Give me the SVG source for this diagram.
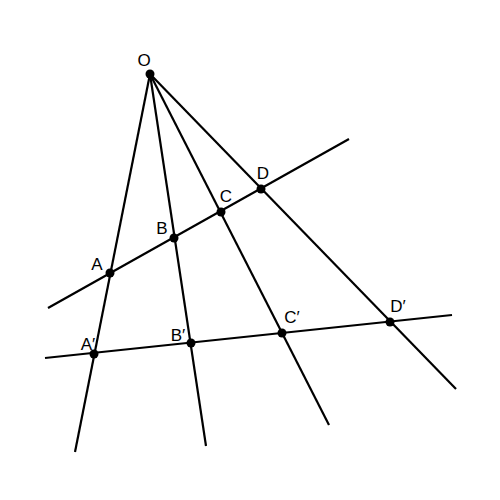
<svg xmlns="http://www.w3.org/2000/svg" width="500" height="500" viewBox="0 0 500 500">
<style>
.l{stroke:#000;stroke-width:2.2;fill:none;stroke-linecap:butt}
.p{fill:#000}
text{font-family:"Liberation Sans",Arial,sans-serif;font-size:17px;fill:#000;text-anchor:middle}
</style>
<rect width="500" height="500" fill="#fff"/>
<g id="connectors">
<line class="l" x1="150" y1="74" x2="75" y2="452"/>
<line class="l" x1="150" y1="74" x2="206" y2="446"/>
<line class="l" x1="150" y1="74" x2="329" y2="425"/>
<line class="l" x1="150" y1="74" x2="456" y2="389"/>
<line class="l" x1="48" y1="308" x2="349" y2="139"/>
<line class="l" x1="45" y1="358" x2="452" y2="315"/>
</g>
<g id="O"><circle class="p" cx="150" cy="74" r="4.5"/><text x="144" y="66">O</text></g>
<g id="A"><circle class="p" cx="110" cy="273" r="4.5"/><text x="97" y="270">A</text></g>
<g id="B"><circle class="p" cx="174" cy="238" r="4.5"/><text x="162" y="234">B</text></g>
<g id="C"><circle class="p" cx="221" cy="212" r="4.5"/><text x="226" y="202">C</text></g>
<g id="D"><circle class="p" cx="261" cy="189" r="4.5"/><text x="263" y="179">D</text></g>
<g id="A2"><circle class="p" cx="94" cy="354" r="4.5"/><text x="88" y="350">A′</text></g>
<g id="B2"><circle class="p" cx="191" cy="343" r="4.5"/><text x="178" y="341">B′</text></g>
<g id="C2"><circle class="p" cx="282" cy="333" r="4.5"/><text x="292" y="323">C′</text></g>
<g id="D2"><circle class="p" cx="390" cy="322" r="4.5"/><text x="398" y="312">D′</text></g>
</svg>
